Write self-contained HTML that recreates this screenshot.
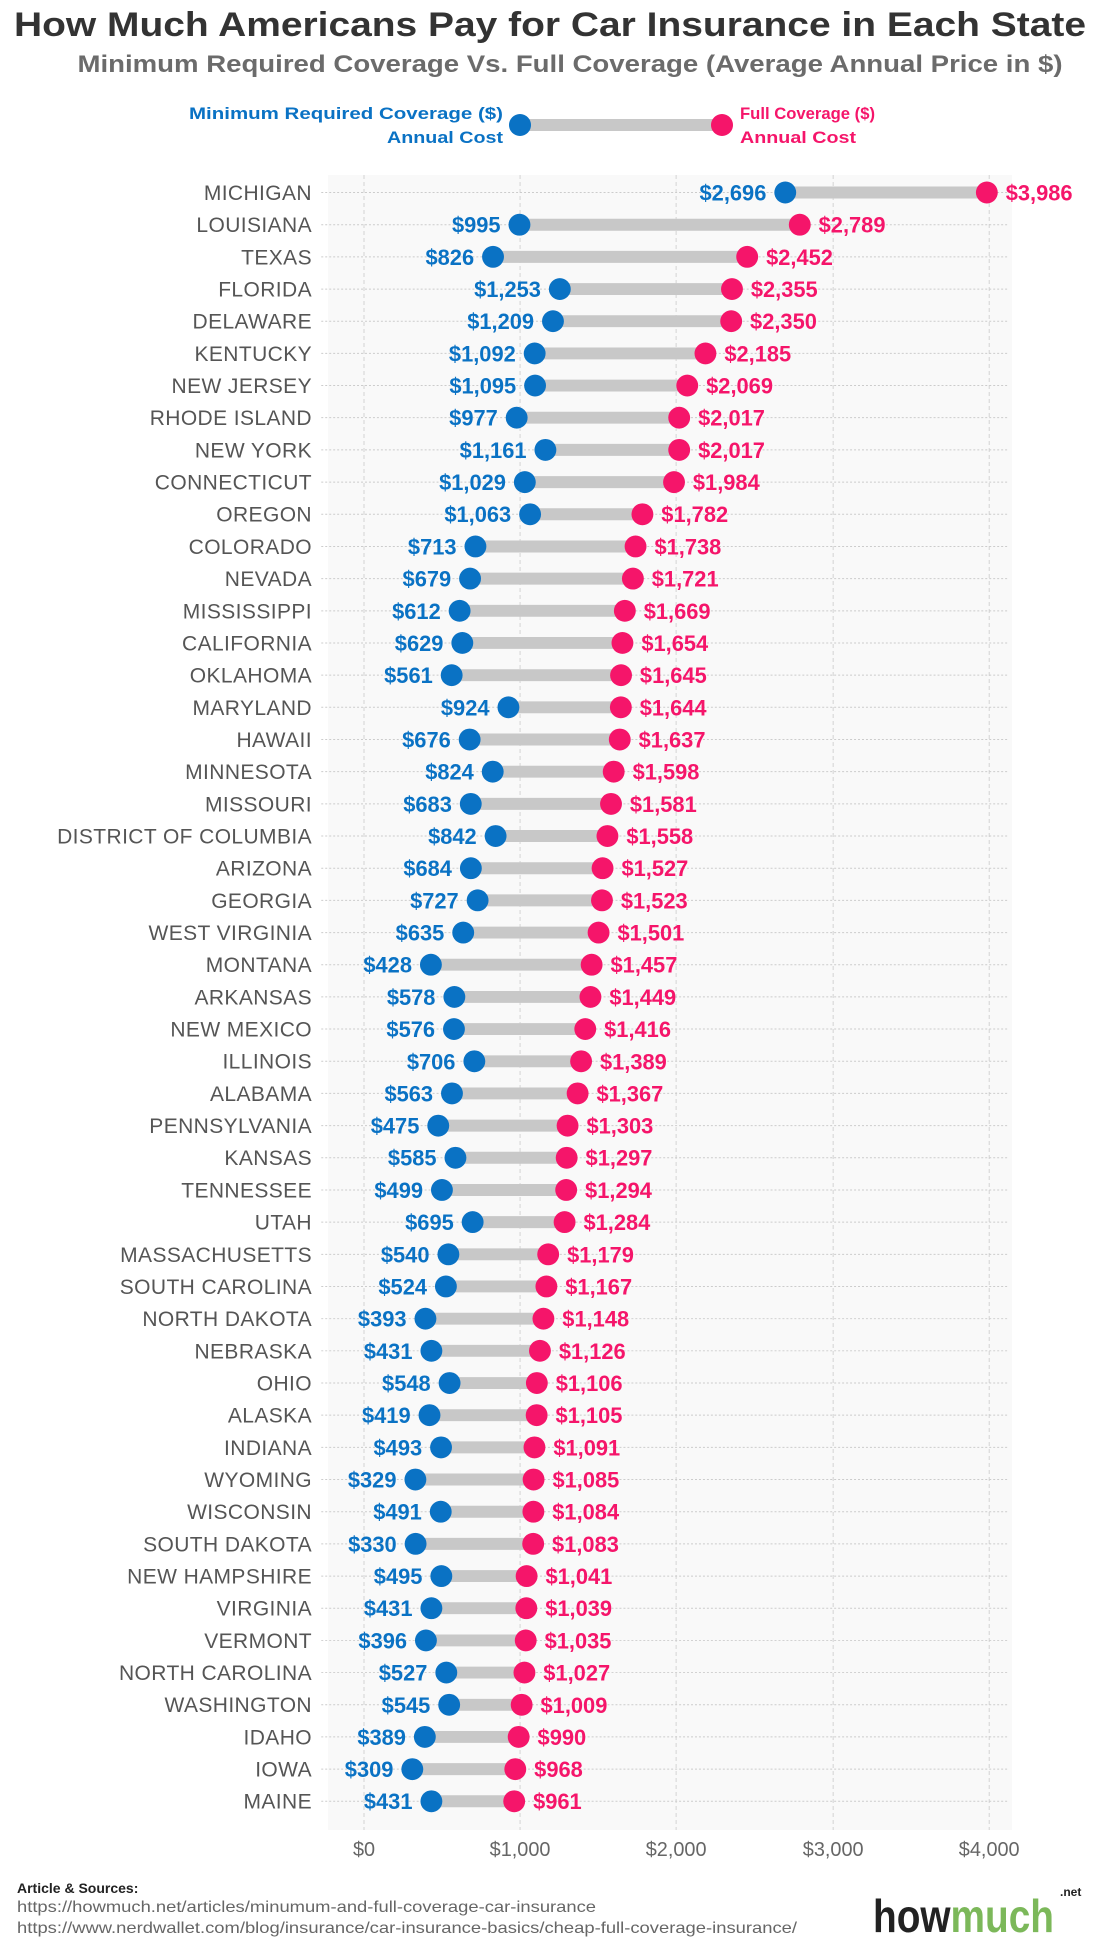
<!DOCTYPE html>
<html><head><meta charset="utf-8"><style>
html,body{margin:0;padding:0;background:#fff;width:1100px;height:1950px;overflow:hidden}
svg{display:block}
.st{font:21px "Liberation Sans",sans-serif;fill:#555;text-anchor:end;letter-spacing:0.4px}
.b{font:bold 22px "Liberation Sans",sans-serif;fill:#0a72c4;text-anchor:end}
.p{font:bold 22px "Liberation Sans",sans-serif;fill:#f5156a}
.tk{font:20px "Liberation Sans",sans-serif;fill:#666;text-anchor:middle}
</style></head><body>
<svg width="1100" height="1950" viewBox="0 0 1100 1950" xmlns="http://www.w3.org/2000/svg">
<text x="550" y="36" text-anchor="middle" textLength="1072" lengthAdjust="spacingAndGlyphs" style="font:bold 34px 'Liberation Sans',sans-serif;fill:#333">How Much Americans Pay for Car Insurance in Each State</text>
<text x="570" y="72" text-anchor="middle" textLength="985" lengthAdjust="spacingAndGlyphs" style="font:bold 24px 'Liberation Sans',sans-serif;fill:#6b6b6b">Minimum Required Coverage Vs. Full Coverage (Average Annual Price in $)</text>
<line x1="520" y1="125" x2="722" y2="125" stroke="#c8c8c8" stroke-width="12"/>
<circle cx="520" cy="125" r="11" fill="#0a72c4"/><circle cx="722" cy="125" r="11" fill="#f5156a"/>
<text x="503" y="119" textLength="314" lengthAdjust="spacingAndGlyphs" style="font:bold 17px 'Liberation Sans',sans-serif;fill:#0a72c4" text-anchor="end">Minimum Required Coverage ($)</text>
<text x="503" y="143" textLength="116" lengthAdjust="spacingAndGlyphs" style="font:bold 17px 'Liberation Sans',sans-serif;fill:#0a72c4" text-anchor="end">Annual Cost</text>
<text x="740" y="119" textLength="135" lengthAdjust="spacingAndGlyphs" style="font:bold 17px 'Liberation Sans',sans-serif;fill:#f5156a">Full Coverage ($)</text>
<text x="740" y="143" textLength="116" lengthAdjust="spacingAndGlyphs" style="font:bold 17px 'Liberation Sans',sans-serif;fill:#f5156a">Annual Cost</text>
<rect x="328" y="175" width="684" height="1655" fill="#f9f9f9"/>
<g transform="translate(364,0) scale(0.994,1) translate(-365,0)">
<g stroke="#d4d4d4" stroke-dasharray="4,3" stroke-width="1">
<line x1="365" y1="175" x2="365" y2="1830"/><line x1="522" y1="175" x2="522" y2="1830"/><line x1="679" y1="175" x2="679" y2="1830"/><line x1="837" y1="175" x2="837" y2="1830"/><line x1="994" y1="175" x2="994" y2="1830"/>
</g>
<g class="tk"><text x="365" y="1856">$0</text><text x="522" y="1856">$1,000</text><text x="679" y="1856">$2,000</text><text x="837" y="1856">$3,000</text><text x="994" y="1856">$4,000</text></g>
</g>
<g transform="translate(0,192.5) scale(1,0.9946) translate(0,-192.5)">
<g transform="translate(364,0) scale(0.994,1) translate(-365,0)">
<g transform="translate(0,192.5)"><line x1="322" y1="0" x2="1012" y2="0" stroke="#ccc" stroke-dasharray="2,2"/><line x1="788.8" y1="0" x2="991.6" y2="0" stroke="#c8c8c8" stroke-width="12"/><circle cx="788.8" cy="0" r="11" fill="#0a72c4"/><circle cx="991.6" cy="0" r="11" fill="#f5156a"/><text class="b" x="769.8" y="8">$2,696</text><text class="p" x="1010.6" y="8">$3,986</text></g>
<g transform="translate(0,224.9)"><line x1="322" y1="0" x2="1012" y2="0" stroke="#ccc" stroke-dasharray="2,2"/><line x1="521.4" y1="0" x2="803.4" y2="0" stroke="#c8c8c8" stroke-width="12"/><circle cx="521.4" cy="0" r="11" fill="#0a72c4"/><circle cx="803.4" cy="0" r="11" fill="#f5156a"/><text class="b" x="502.4" y="8">$995</text><text class="p" x="822.4" y="8">$2,789</text></g>
<g transform="translate(0,257.2)"><line x1="322" y1="0" x2="1012" y2="0" stroke="#ccc" stroke-dasharray="2,2"/><line x1="494.8" y1="0" x2="750.5" y2="0" stroke="#c8c8c8" stroke-width="12"/><circle cx="494.8" cy="0" r="11" fill="#0a72c4"/><circle cx="750.5" cy="0" r="11" fill="#f5156a"/><text class="b" x="475.8" y="8">$826</text><text class="p" x="769.5" y="8">$2,452</text></g>
<g transform="translate(0,289.6)"><line x1="322" y1="0" x2="1012" y2="0" stroke="#ccc" stroke-dasharray="2,2"/><line x1="562.0" y1="0" x2="735.2" y2="0" stroke="#c8c8c8" stroke-width="12"/><circle cx="562.0" cy="0" r="11" fill="#0a72c4"/><circle cx="735.2" cy="0" r="11" fill="#f5156a"/><text class="b" x="543.0" y="8">$1,253</text><text class="p" x="754.2" y="8">$2,355</text></g>
<g transform="translate(0,321.9)"><line x1="322" y1="0" x2="1012" y2="0" stroke="#ccc" stroke-dasharray="2,2"/><line x1="555.1" y1="0" x2="734.4" y2="0" stroke="#c8c8c8" stroke-width="12"/><circle cx="555.1" cy="0" r="11" fill="#0a72c4"/><circle cx="734.4" cy="0" r="11" fill="#f5156a"/><text class="b" x="536.1" y="8">$1,209</text><text class="p" x="753.4" y="8">$2,350</text></g>
<g transform="translate(0,354.3)"><line x1="322" y1="0" x2="1012" y2="0" stroke="#ccc" stroke-dasharray="2,2"/><line x1="536.7" y1="0" x2="708.5" y2="0" stroke="#c8c8c8" stroke-width="12"/><circle cx="536.7" cy="0" r="11" fill="#0a72c4"/><circle cx="708.5" cy="0" r="11" fill="#f5156a"/><text class="b" x="517.7" y="8">$1,092</text><text class="p" x="727.5" y="8">$2,185</text></g>
<g transform="translate(0,386.6)"><line x1="322" y1="0" x2="1012" y2="0" stroke="#ccc" stroke-dasharray="2,2"/><line x1="537.1" y1="0" x2="690.2" y2="0" stroke="#c8c8c8" stroke-width="12"/><circle cx="537.1" cy="0" r="11" fill="#0a72c4"/><circle cx="690.2" cy="0" r="11" fill="#f5156a"/><text class="b" x="518.1" y="8">$1,095</text><text class="p" x="709.2" y="8">$2,069</text></g>
<g transform="translate(0,418.9)"><line x1="322" y1="0" x2="1012" y2="0" stroke="#ccc" stroke-dasharray="2,2"/><line x1="518.6" y1="0" x2="682.1" y2="0" stroke="#c8c8c8" stroke-width="12"/><circle cx="518.6" cy="0" r="11" fill="#0a72c4"/><circle cx="682.1" cy="0" r="11" fill="#f5156a"/><text class="b" x="499.6" y="8">$977</text><text class="p" x="701.1" y="8">$2,017</text></g>
<g transform="translate(0,451.3)"><line x1="322" y1="0" x2="1012" y2="0" stroke="#ccc" stroke-dasharray="2,2"/><line x1="547.5" y1="0" x2="682.1" y2="0" stroke="#c8c8c8" stroke-width="12"/><circle cx="547.5" cy="0" r="11" fill="#0a72c4"/><circle cx="682.1" cy="0" r="11" fill="#f5156a"/><text class="b" x="528.5" y="8">$1,161</text><text class="p" x="701.1" y="8">$2,017</text></g>
<g transform="translate(0,483.7)"><line x1="322" y1="0" x2="1012" y2="0" stroke="#ccc" stroke-dasharray="2,2"/><line x1="526.8" y1="0" x2="676.9" y2="0" stroke="#c8c8c8" stroke-width="12"/><circle cx="526.8" cy="0" r="11" fill="#0a72c4"/><circle cx="676.9" cy="0" r="11" fill="#f5156a"/><text class="b" x="507.8" y="8">$1,029</text><text class="p" x="695.9" y="8">$1,984</text></g>
<g transform="translate(0,516.0)"><line x1="322" y1="0" x2="1012" y2="0" stroke="#ccc" stroke-dasharray="2,2"/><line x1="532.1" y1="0" x2="645.1" y2="0" stroke="#c8c8c8" stroke-width="12"/><circle cx="532.1" cy="0" r="11" fill="#0a72c4"/><circle cx="645.1" cy="0" r="11" fill="#f5156a"/><text class="b" x="513.1" y="8">$1,063</text><text class="p" x="664.1" y="8">$1,782</text></g>
<g transform="translate(0,548.4)"><line x1="322" y1="0" x2="1012" y2="0" stroke="#ccc" stroke-dasharray="2,2"/><line x1="477.1" y1="0" x2="638.2" y2="0" stroke="#c8c8c8" stroke-width="12"/><circle cx="477.1" cy="0" r="11" fill="#0a72c4"/><circle cx="638.2" cy="0" r="11" fill="#f5156a"/><text class="b" x="458.1" y="8">$713</text><text class="p" x="657.2" y="8">$1,738</text></g>
<g transform="translate(0,580.7)"><line x1="322" y1="0" x2="1012" y2="0" stroke="#ccc" stroke-dasharray="2,2"/><line x1="471.7" y1="0" x2="635.5" y2="0" stroke="#c8c8c8" stroke-width="12"/><circle cx="471.7" cy="0" r="11" fill="#0a72c4"/><circle cx="635.5" cy="0" r="11" fill="#f5156a"/><text class="b" x="452.7" y="8">$679</text><text class="p" x="654.5" y="8">$1,721</text></g>
<g transform="translate(0,613.1)"><line x1="322" y1="0" x2="1012" y2="0" stroke="#ccc" stroke-dasharray="2,2"/><line x1="461.2" y1="0" x2="627.4" y2="0" stroke="#c8c8c8" stroke-width="12"/><circle cx="461.2" cy="0" r="11" fill="#0a72c4"/><circle cx="627.4" cy="0" r="11" fill="#f5156a"/><text class="b" x="442.2" y="8">$612</text><text class="p" x="646.4" y="8">$1,669</text></g>
<g transform="translate(0,645.4)"><line x1="322" y1="0" x2="1012" y2="0" stroke="#ccc" stroke-dasharray="2,2"/><line x1="463.9" y1="0" x2="625.0" y2="0" stroke="#c8c8c8" stroke-width="12"/><circle cx="463.9" cy="0" r="11" fill="#0a72c4"/><circle cx="625.0" cy="0" r="11" fill="#f5156a"/><text class="b" x="444.9" y="8">$629</text><text class="p" x="644.0" y="8">$1,654</text></g>
<g transform="translate(0,677.8)"><line x1="322" y1="0" x2="1012" y2="0" stroke="#ccc" stroke-dasharray="2,2"/><line x1="453.2" y1="0" x2="623.6" y2="0" stroke="#c8c8c8" stroke-width="12"/><circle cx="453.2" cy="0" r="11" fill="#0a72c4"/><circle cx="623.6" cy="0" r="11" fill="#f5156a"/><text class="b" x="434.2" y="8">$561</text><text class="p" x="642.6" y="8">$1,645</text></g>
<g transform="translate(0,710.1)"><line x1="322" y1="0" x2="1012" y2="0" stroke="#ccc" stroke-dasharray="2,2"/><line x1="510.3" y1="0" x2="623.4" y2="0" stroke="#c8c8c8" stroke-width="12"/><circle cx="510.3" cy="0" r="11" fill="#0a72c4"/><circle cx="623.4" cy="0" r="11" fill="#f5156a"/><text class="b" x="491.3" y="8">$924</text><text class="p" x="642.4" y="8">$1,644</text></g>
<g transform="translate(0,742.5)"><line x1="322" y1="0" x2="1012" y2="0" stroke="#ccc" stroke-dasharray="2,2"/><line x1="471.3" y1="0" x2="622.3" y2="0" stroke="#c8c8c8" stroke-width="12"/><circle cx="471.3" cy="0" r="11" fill="#0a72c4"/><circle cx="622.3" cy="0" r="11" fill="#f5156a"/><text class="b" x="452.3" y="8">$676</text><text class="p" x="641.3" y="8">$1,637</text></g>
<g transform="translate(0,774.8)"><line x1="322" y1="0" x2="1012" y2="0" stroke="#ccc" stroke-dasharray="2,2"/><line x1="494.5" y1="0" x2="616.2" y2="0" stroke="#c8c8c8" stroke-width="12"/><circle cx="494.5" cy="0" r="11" fill="#0a72c4"/><circle cx="616.2" cy="0" r="11" fill="#f5156a"/><text class="b" x="475.5" y="8">$824</text><text class="p" x="635.2" y="8">$1,598</text></g>
<g transform="translate(0,807.2)"><line x1="322" y1="0" x2="1012" y2="0" stroke="#ccc" stroke-dasharray="2,2"/><line x1="472.4" y1="0" x2="613.5" y2="0" stroke="#c8c8c8" stroke-width="12"/><circle cx="472.4" cy="0" r="11" fill="#0a72c4"/><circle cx="613.5" cy="0" r="11" fill="#f5156a"/><text class="b" x="453.4" y="8">$683</text><text class="p" x="632.5" y="8">$1,581</text></g>
<g transform="translate(0,839.5)"><line x1="322" y1="0" x2="1012" y2="0" stroke="#ccc" stroke-dasharray="2,2"/><line x1="497.4" y1="0" x2="609.9" y2="0" stroke="#c8c8c8" stroke-width="12"/><circle cx="497.4" cy="0" r="11" fill="#0a72c4"/><circle cx="609.9" cy="0" r="11" fill="#f5156a"/><text class="b" x="478.4" y="8">$842</text><text class="p" x="628.9" y="8">$1,558</text></g>
<g transform="translate(0,871.9)"><line x1="322" y1="0" x2="1012" y2="0" stroke="#ccc" stroke-dasharray="2,2"/><line x1="472.5" y1="0" x2="605.0" y2="0" stroke="#c8c8c8" stroke-width="12"/><circle cx="472.5" cy="0" r="11" fill="#0a72c4"/><circle cx="605.0" cy="0" r="11" fill="#f5156a"/><text class="b" x="453.5" y="8">$684</text><text class="p" x="624.0" y="8">$1,527</text></g>
<g transform="translate(0,904.2)"><line x1="322" y1="0" x2="1012" y2="0" stroke="#ccc" stroke-dasharray="2,2"/><line x1="479.3" y1="0" x2="604.4" y2="0" stroke="#c8c8c8" stroke-width="12"/><circle cx="479.3" cy="0" r="11" fill="#0a72c4"/><circle cx="604.4" cy="0" r="11" fill="#f5156a"/><text class="b" x="460.3" y="8">$727</text><text class="p" x="623.4" y="8">$1,523</text></g>
<g transform="translate(0,936.6)"><line x1="322" y1="0" x2="1012" y2="0" stroke="#ccc" stroke-dasharray="2,2"/><line x1="464.8" y1="0" x2="601.0" y2="0" stroke="#c8c8c8" stroke-width="12"/><circle cx="464.8" cy="0" r="11" fill="#0a72c4"/><circle cx="601.0" cy="0" r="11" fill="#f5156a"/><text class="b" x="445.8" y="8">$635</text><text class="p" x="620.0" y="8">$1,501</text></g>
<g transform="translate(0,968.9)"><line x1="322" y1="0" x2="1012" y2="0" stroke="#ccc" stroke-dasharray="2,2"/><line x1="432.3" y1="0" x2="594.0" y2="0" stroke="#c8c8c8" stroke-width="12"/><circle cx="432.3" cy="0" r="11" fill="#0a72c4"/><circle cx="594.0" cy="0" r="11" fill="#f5156a"/><text class="b" x="413.3" y="8">$428</text><text class="p" x="613.0" y="8">$1,457</text></g>
<g transform="translate(0,1001.3)"><line x1="322" y1="0" x2="1012" y2="0" stroke="#ccc" stroke-dasharray="2,2"/><line x1="455.9" y1="0" x2="592.8" y2="0" stroke="#c8c8c8" stroke-width="12"/><circle cx="455.9" cy="0" r="11" fill="#0a72c4"/><circle cx="592.8" cy="0" r="11" fill="#f5156a"/><text class="b" x="436.9" y="8">$578</text><text class="p" x="611.8" y="8">$1,449</text></g>
<g transform="translate(0,1033.6)"><line x1="322" y1="0" x2="1012" y2="0" stroke="#ccc" stroke-dasharray="2,2"/><line x1="455.5" y1="0" x2="587.6" y2="0" stroke="#c8c8c8" stroke-width="12"/><circle cx="455.5" cy="0" r="11" fill="#0a72c4"/><circle cx="587.6" cy="0" r="11" fill="#f5156a"/><text class="b" x="436.5" y="8">$576</text><text class="p" x="606.6" y="8">$1,416</text></g>
<g transform="translate(0,1066.0)"><line x1="322" y1="0" x2="1012" y2="0" stroke="#ccc" stroke-dasharray="2,2"/><line x1="476.0" y1="0" x2="583.4" y2="0" stroke="#c8c8c8" stroke-width="12"/><circle cx="476.0" cy="0" r="11" fill="#0a72c4"/><circle cx="583.4" cy="0" r="11" fill="#f5156a"/><text class="b" x="457.0" y="8">$706</text><text class="p" x="602.4" y="8">$1,389</text></g>
<g transform="translate(0,1098.3)"><line x1="322" y1="0" x2="1012" y2="0" stroke="#ccc" stroke-dasharray="2,2"/><line x1="453.5" y1="0" x2="579.9" y2="0" stroke="#c8c8c8" stroke-width="12"/><circle cx="453.5" cy="0" r="11" fill="#0a72c4"/><circle cx="579.9" cy="0" r="11" fill="#f5156a"/><text class="b" x="434.5" y="8">$563</text><text class="p" x="598.9" y="8">$1,367</text></g>
<g transform="translate(0,1130.7)"><line x1="322" y1="0" x2="1012" y2="0" stroke="#ccc" stroke-dasharray="2,2"/><line x1="439.7" y1="0" x2="569.8" y2="0" stroke="#c8c8c8" stroke-width="12"/><circle cx="439.7" cy="0" r="11" fill="#0a72c4"/><circle cx="569.8" cy="0" r="11" fill="#f5156a"/><text class="b" x="420.7" y="8">$475</text><text class="p" x="588.8" y="8">$1,303</text></g>
<g transform="translate(0,1163.0)"><line x1="322" y1="0" x2="1012" y2="0" stroke="#ccc" stroke-dasharray="2,2"/><line x1="457.0" y1="0" x2="568.9" y2="0" stroke="#c8c8c8" stroke-width="12"/><circle cx="457.0" cy="0" r="11" fill="#0a72c4"/><circle cx="568.9" cy="0" r="11" fill="#f5156a"/><text class="b" x="438.0" y="8">$585</text><text class="p" x="587.9" y="8">$1,297</text></g>
<g transform="translate(0,1195.4)"><line x1="322" y1="0" x2="1012" y2="0" stroke="#ccc" stroke-dasharray="2,2"/><line x1="443.4" y1="0" x2="568.4" y2="0" stroke="#c8c8c8" stroke-width="12"/><circle cx="443.4" cy="0" r="11" fill="#0a72c4"/><circle cx="568.4" cy="0" r="11" fill="#f5156a"/><text class="b" x="424.4" y="8">$499</text><text class="p" x="587.4" y="8">$1,294</text></g>
<g transform="translate(0,1227.7)"><line x1="322" y1="0" x2="1012" y2="0" stroke="#ccc" stroke-dasharray="2,2"/><line x1="474.3" y1="0" x2="566.8" y2="0" stroke="#c8c8c8" stroke-width="12"/><circle cx="474.3" cy="0" r="11" fill="#0a72c4"/><circle cx="566.8" cy="0" r="11" fill="#f5156a"/><text class="b" x="455.3" y="8">$695</text><text class="p" x="585.8" y="8">$1,284</text></g>
<g transform="translate(0,1260.1)"><line x1="322" y1="0" x2="1012" y2="0" stroke="#ccc" stroke-dasharray="2,2"/><line x1="449.9" y1="0" x2="550.3" y2="0" stroke="#c8c8c8" stroke-width="12"/><circle cx="449.9" cy="0" r="11" fill="#0a72c4"/><circle cx="550.3" cy="0" r="11" fill="#f5156a"/><text class="b" x="430.9" y="8">$540</text><text class="p" x="569.3" y="8">$1,179</text></g>
<g transform="translate(0,1292.4)"><line x1="322" y1="0" x2="1012" y2="0" stroke="#ccc" stroke-dasharray="2,2"/><line x1="447.4" y1="0" x2="548.5" y2="0" stroke="#c8c8c8" stroke-width="12"/><circle cx="447.4" cy="0" r="11" fill="#0a72c4"/><circle cx="548.5" cy="0" r="11" fill="#f5156a"/><text class="b" x="428.4" y="8">$524</text><text class="p" x="567.5" y="8">$1,167</text></g>
<g transform="translate(0,1324.8)"><line x1="322" y1="0" x2="1012" y2="0" stroke="#ccc" stroke-dasharray="2,2"/><line x1="426.8" y1="0" x2="545.5" y2="0" stroke="#c8c8c8" stroke-width="12"/><circle cx="426.8" cy="0" r="11" fill="#0a72c4"/><circle cx="545.5" cy="0" r="11" fill="#f5156a"/><text class="b" x="407.8" y="8">$393</text><text class="p" x="564.5" y="8">$1,148</text></g>
<g transform="translate(0,1357.1)"><line x1="322" y1="0" x2="1012" y2="0" stroke="#ccc" stroke-dasharray="2,2"/><line x1="432.8" y1="0" x2="542.0" y2="0" stroke="#c8c8c8" stroke-width="12"/><circle cx="432.8" cy="0" r="11" fill="#0a72c4"/><circle cx="542.0" cy="0" r="11" fill="#f5156a"/><text class="b" x="413.8" y="8">$431</text><text class="p" x="561.0" y="8">$1,126</text></g>
<g transform="translate(0,1389.5)"><line x1="322" y1="0" x2="1012" y2="0" stroke="#ccc" stroke-dasharray="2,2"/><line x1="451.1" y1="0" x2="538.9" y2="0" stroke="#c8c8c8" stroke-width="12"/><circle cx="451.1" cy="0" r="11" fill="#0a72c4"/><circle cx="538.9" cy="0" r="11" fill="#f5156a"/><text class="b" x="432.1" y="8">$548</text><text class="p" x="557.9" y="8">$1,106</text></g>
<g transform="translate(0,1421.8)"><line x1="322" y1="0" x2="1012" y2="0" stroke="#ccc" stroke-dasharray="2,2"/><line x1="430.9" y1="0" x2="538.7" y2="0" stroke="#c8c8c8" stroke-width="12"/><circle cx="430.9" cy="0" r="11" fill="#0a72c4"/><circle cx="538.7" cy="0" r="11" fill="#f5156a"/><text class="b" x="411.9" y="8">$419</text><text class="p" x="557.7" y="8">$1,105</text></g>
<g transform="translate(0,1454.2)"><line x1="322" y1="0" x2="1012" y2="0" stroke="#ccc" stroke-dasharray="2,2"/><line x1="442.5" y1="0" x2="536.5" y2="0" stroke="#c8c8c8" stroke-width="12"/><circle cx="442.5" cy="0" r="11" fill="#0a72c4"/><circle cx="536.5" cy="0" r="11" fill="#f5156a"/><text class="b" x="423.5" y="8">$493</text><text class="p" x="555.5" y="8">$1,091</text></g>
<g transform="translate(0,1486.5)"><line x1="322" y1="0" x2="1012" y2="0" stroke="#ccc" stroke-dasharray="2,2"/><line x1="416.7" y1="0" x2="535.6" y2="0" stroke="#c8c8c8" stroke-width="12"/><circle cx="416.7" cy="0" r="11" fill="#0a72c4"/><circle cx="535.6" cy="0" r="11" fill="#f5156a"/><text class="b" x="397.7" y="8">$329</text><text class="p" x="554.6" y="8">$1,085</text></g>
<g transform="translate(0,1518.9)"><line x1="322" y1="0" x2="1012" y2="0" stroke="#ccc" stroke-dasharray="2,2"/><line x1="442.2" y1="0" x2="535.4" y2="0" stroke="#c8c8c8" stroke-width="12"/><circle cx="442.2" cy="0" r="11" fill="#0a72c4"/><circle cx="535.4" cy="0" r="11" fill="#f5156a"/><text class="b" x="423.2" y="8">$491</text><text class="p" x="554.4" y="8">$1,084</text></g>
<g transform="translate(0,1551.2)"><line x1="322" y1="0" x2="1012" y2="0" stroke="#ccc" stroke-dasharray="2,2"/><line x1="416.9" y1="0" x2="535.2" y2="0" stroke="#c8c8c8" stroke-width="12"/><circle cx="416.9" cy="0" r="11" fill="#0a72c4"/><circle cx="535.2" cy="0" r="11" fill="#f5156a"/><text class="b" x="397.9" y="8">$330</text><text class="p" x="554.2" y="8">$1,083</text></g>
<g transform="translate(0,1583.6)"><line x1="322" y1="0" x2="1012" y2="0" stroke="#ccc" stroke-dasharray="2,2"/><line x1="442.8" y1="0" x2="528.6" y2="0" stroke="#c8c8c8" stroke-width="12"/><circle cx="442.8" cy="0" r="11" fill="#0a72c4"/><circle cx="528.6" cy="0" r="11" fill="#f5156a"/><text class="b" x="423.8" y="8">$495</text><text class="p" x="547.6" y="8">$1,041</text></g>
<g transform="translate(0,1615.9)"><line x1="322" y1="0" x2="1012" y2="0" stroke="#ccc" stroke-dasharray="2,2"/><line x1="432.8" y1="0" x2="528.3" y2="0" stroke="#c8c8c8" stroke-width="12"/><circle cx="432.8" cy="0" r="11" fill="#0a72c4"/><circle cx="528.3" cy="0" r="11" fill="#f5156a"/><text class="b" x="413.8" y="8">$431</text><text class="p" x="547.3" y="8">$1,039</text></g>
<g transform="translate(0,1648.3)"><line x1="322" y1="0" x2="1012" y2="0" stroke="#ccc" stroke-dasharray="2,2"/><line x1="427.3" y1="0" x2="527.7" y2="0" stroke="#c8c8c8" stroke-width="12"/><circle cx="427.3" cy="0" r="11" fill="#0a72c4"/><circle cx="527.7" cy="0" r="11" fill="#f5156a"/><text class="b" x="408.3" y="8">$396</text><text class="p" x="546.7" y="8">$1,035</text></g>
<g transform="translate(0,1680.6)"><line x1="322" y1="0" x2="1012" y2="0" stroke="#ccc" stroke-dasharray="2,2"/><line x1="447.8" y1="0" x2="526.4" y2="0" stroke="#c8c8c8" stroke-width="12"/><circle cx="447.8" cy="0" r="11" fill="#0a72c4"/><circle cx="526.4" cy="0" r="11" fill="#f5156a"/><text class="b" x="428.8" y="8">$527</text><text class="p" x="545.4" y="8">$1,027</text></g>
<g transform="translate(0,1713.0)"><line x1="322" y1="0" x2="1012" y2="0" stroke="#ccc" stroke-dasharray="2,2"/><line x1="450.7" y1="0" x2="523.6" y2="0" stroke="#c8c8c8" stroke-width="12"/><circle cx="450.7" cy="0" r="11" fill="#0a72c4"/><circle cx="523.6" cy="0" r="11" fill="#f5156a"/><text class="b" x="431.7" y="8">$545</text><text class="p" x="542.6" y="8">$1,009</text></g>
<g transform="translate(0,1745.3)"><line x1="322" y1="0" x2="1012" y2="0" stroke="#ccc" stroke-dasharray="2,2"/><line x1="426.2" y1="0" x2="520.6" y2="0" stroke="#c8c8c8" stroke-width="12"/><circle cx="426.2" cy="0" r="11" fill="#0a72c4"/><circle cx="520.6" cy="0" r="11" fill="#f5156a"/><text class="b" x="407.2" y="8">$389</text><text class="p" x="539.6" y="8">$990</text></g>
<g transform="translate(0,1777.7)"><line x1="322" y1="0" x2="1012" y2="0" stroke="#ccc" stroke-dasharray="2,2"/><line x1="413.6" y1="0" x2="517.2" y2="0" stroke="#c8c8c8" stroke-width="12"/><circle cx="413.6" cy="0" r="11" fill="#0a72c4"/><circle cx="517.2" cy="0" r="11" fill="#f5156a"/><text class="b" x="394.6" y="8">$309</text><text class="p" x="536.2" y="8">$968</text></g>
<g transform="translate(0,1810)"><line x1="322" y1="0" x2="1012" y2="0" stroke="#ccc" stroke-dasharray="2,2"/><line x1="432.8" y1="0" x2="516.1" y2="0" stroke="#c8c8c8" stroke-width="12"/><circle cx="432.8" cy="0" r="11" fill="#0a72c4"/><circle cx="516.1" cy="0" r="11" fill="#f5156a"/><text class="b" x="413.8" y="8">$431</text><text class="p" x="535.1" y="8">$961</text></g>
</g>
<g>
<text class="st" x="312" y="200">MICHIGAN</text><text class="st" x="312" y="232.4">LOUISIANA</text><text class="st" x="312" y="264.7">TEXAS</text><text class="st" x="312" y="297.1">FLORIDA</text><text class="st" x="312" y="329.4">DELAWARE</text><text class="st" x="312" y="361.8">KENTUCKY</text><text class="st" x="312" y="394.1">NEW JERSEY</text><text class="st" x="312" y="426.4">RHODE ISLAND</text><text class="st" x="312" y="458.8">NEW YORK</text><text class="st" x="312" y="491.2">CONNECTICUT</text><text class="st" x="312" y="523.5">OREGON</text><text class="st" x="312" y="555.9">COLORADO</text><text class="st" x="312" y="588.2">NEVADA</text><text class="st" x="312" y="620.6">MISSISSIPPI</text><text class="st" x="312" y="652.9">CALIFORNIA</text><text class="st" x="312" y="685.3">OKLAHOMA</text><text class="st" x="312" y="717.6">MARYLAND</text><text class="st" x="312" y="750">HAWAII</text><text class="st" x="312" y="782.3">MINNESOTA</text><text class="st" x="312" y="814.7">MISSOURI</text><text class="st" x="312" y="847">DISTRICT OF COLUMBIA</text><text class="st" x="312" y="879.4">ARIZONA</text><text class="st" x="312" y="911.7">GEORGIA</text><text class="st" x="312" y="944.1">WEST VIRGINIA</text><text class="st" x="312" y="976.4">MONTANA</text><text class="st" x="312" y="1008.8">ARKANSAS</text><text class="st" x="312" y="1041.1">NEW MEXICO</text><text class="st" x="312" y="1073.5">ILLINOIS</text><text class="st" x="312" y="1105.8">ALABAMA</text><text class="st" x="312" y="1138.2">PENNSYLVANIA</text><text class="st" x="312" y="1170.5">KANSAS</text><text class="st" x="312" y="1202.9">TENNESSEE</text><text class="st" x="312" y="1235.2">UTAH</text><text class="st" x="312" y="1267.6">MASSACHUSETTS</text><text class="st" x="312" y="1299.9">SOUTH CAROLINA</text><text class="st" x="312" y="1332.3">NORTH DAKOTA</text><text class="st" x="312" y="1364.6">NEBRASKA</text><text class="st" x="312" y="1397">OHIO</text><text class="st" x="312" y="1429.3">ALASKA</text><text class="st" x="312" y="1461.7">INDIANA</text><text class="st" x="312" y="1494">WYOMING</text><text class="st" x="312" y="1526.4">WISCONSIN</text><text class="st" x="312" y="1558.7">SOUTH DAKOTA</text><text class="st" x="312" y="1591.1">NEW HAMPSHIRE</text><text class="st" x="312" y="1623.4">VIRGINIA</text><text class="st" x="312" y="1655.8">VERMONT</text><text class="st" x="312" y="1688.1">NORTH CAROLINA</text><text class="st" x="312" y="1720.5">WASHINGTON</text><text class="st" x="312" y="1752.8">IDAHO</text><text class="st" x="312" y="1785.2">IOWA</text><text class="st" x="312" y="1817.5">MAINE</text>
</g>
</g>
<text x="17" y="1893" style="font:bold 14px 'Liberation Sans',sans-serif;fill:#222">Article &amp; Sources:</text>
<text x="17" y="1912" textLength="579" lengthAdjust="spacingAndGlyphs" style="font:16px 'Liberation Sans',sans-serif;fill:#666">https://howmuch.net/articles/minumum-and-full-coverage-car-insurance</text>
<text x="17" y="1933" textLength="780" lengthAdjust="spacingAndGlyphs" style="font:16px 'Liberation Sans',sans-serif;fill:#666">https://www.nerdwallet.com/blog/insurance/car-insurance-basics/cheap-full-coverage-insurance/</text>
<text x="873" y="1932" textLength="181" lengthAdjust="spacingAndGlyphs" style="font:bold 46px 'Liberation Sans',sans-serif"><tspan fill="#222">how</tspan><tspan fill="#7cb85a">much</tspan></text>
<text x="1060" y="1896" style="font:bold 12px 'Liberation Sans',sans-serif;fill:#222">.net</text>
</svg>
</body></html>
